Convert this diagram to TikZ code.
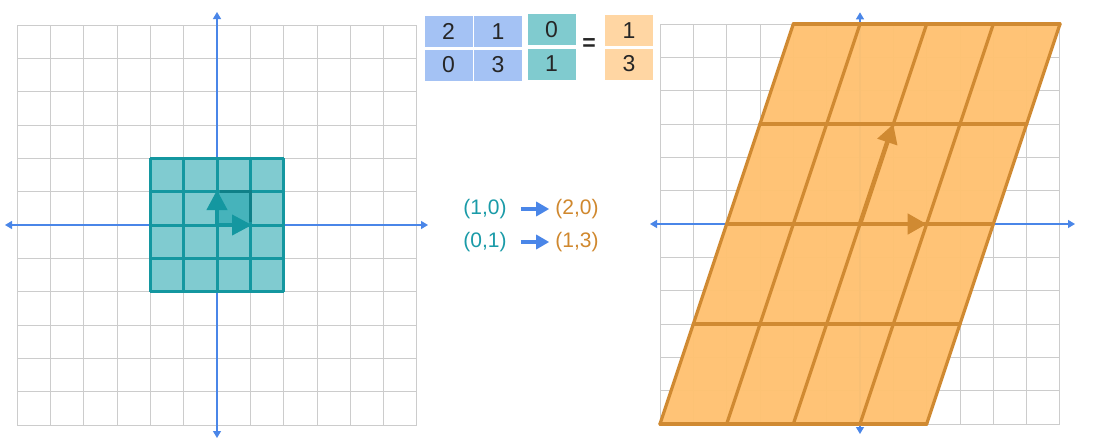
\documentclass[tikz,border=0pt]{standalone}
\usepackage{fontspec}
\setmainfont{Liberation Sans}
\usetikzlibrary{arrows.meta}
\definecolor{gridgray}{HTML}{CCCCCC}
\definecolor{axisblue}{HTML}{4A86E8}
\definecolor{tealfill}{HTML}{80CBD0}
\definecolor{tealdark}{HTML}{46B3BB}
\definecolor{tealedge}{HTML}{0F8088}
\definecolor{tealline}{HTML}{1497A0}
\definecolor{tealtext}{HTML}{1A9BA8}
\definecolor{orfill}{HTML}{FFC272}
\definecolor{orline}{HTML}{D08A32}
\definecolor{ortext}{HTML}{D0882E}
\definecolor{mblue}{HTML}{A4C2F4}
\definecolor{mteal}{HTML}{80CBCF}
\definecolor{morange}{HTML}{FFD6A3}
\tikzset{
  gridline/.style={draw=gridgray, line width=1pt},
  axisline/.style={draw=axisblue, line width=1.3pt,
    {Triangle[length=7pt,width=8pt]}-{Triangle[length=7pt,width=8pt]}},
  tealarrow/.style={draw=tealline, line width=4pt, -{Triangle[length=20pt,width=20pt]}},
  orarrow/.style={draw=orline, line width=4.5pt, -{Triangle[length=19pt,width=20pt]}},
  cell/.style={minimum width=48pt, minimum height=31pt, inner sep=0pt,
    font=\fontsize{23}{23}\selectfont, text=black!85},
  vectxt/.style={font=\fontsize{21}{21}\selectfont, inner sep=1pt},
  maparrow/.style={draw=axisblue, line width=3.2pt, -{Triangle[length=13pt,width=14pt]}}
}
\begin{document}
\begin{tikzpicture}[x=1pt,y=-1pt]
\path[use as bounding box, fill=white] (0,0) rectangle (1104,445);

% ---------- left plane ----------
\begin{scope}[shift={(217pt,-225pt)},x=33.333pt,y=33.333pt]
  \draw[gridline, step={(1,1)}] (-6,-6) grid (6,6);
  \draw[axisline] (-6.36,0) -- (6.33,0);
  \draw[axisline] (0,-6.39) -- (0,6.39);
  \fill[tealfill] (-2,-2) rectangle (2,2);
  \fill[tealdark] (0,0) rectangle (1,1);
  \draw[tealline, line width=3pt, step={(1,1)}] (-2,-2) grid (2,2);
  \draw[tealedge, line width=3pt] (0.1,1) -- (1,1) -- (1,0.1);
  \draw[tealarrow] (0,0) -- (1.05,0);
  \draw[tealarrow] (0,0) -- (0,1.05);
\end{scope}

% ---------- right plane ----------
\begin{scope}[shift={(860pt,-224pt)},x=33.333pt,y=33.333pt]
  \draw[gridline, step={(1,1)}] (-6,-6) grid (6,6);
  \draw[axisline] (-6.3,0) -- (6.45,0);
  \draw[axisline] (0,-6.3) -- (0,6.35);
  \fill[orfill, fill opacity=0.97] (-6,-6) -- (2,-6) -- (6,6) -- (-2,6) -- cycle;
  \foreach \t in {-2,...,2} {
    \draw[orline, line width=3.2pt, line cap=round] (\t-4,3*\t) -- (\t+4,3*\t);
    \draw[orline, line width=3.2pt, line cap=round] (2*\t-2,-6) -- (2*\t+2,6);
  }
  \draw[orarrow] (0,0) -- (2,0);
  \draw[orarrow] (0,0) -- (1,3);
\end{scope}

% ---------- matrix equation ----------
\node[cell, fill=mblue] (m11) at (448.5,31.5) {2};
\node[cell, fill=mblue] (m12) at (498,31.5) {1};
\node[cell, fill=mblue] (m21) at (448.5,65) {0};
\node[cell, fill=mblue] (m22) at (498,65) {3};
\node[cell, fill=mteal] (v1) at (551.5,29.5) {0};
\node[cell, fill=mteal] (v2) at (551.5,64) {1};
\node[font=\fontsize{23}{23}\selectfont\bfseries, text=black!85] (eq) at (589,45) {=};
\node[cell, fill=morange] (r1) at (629,30.5) {1};
\node[cell, fill=morange] (r2) at (629,64) {3};

% ---------- mapping text ----------
\node[vectxt, text=tealtext] (a1) at (485,209) {(1,0)};
\node[vectxt, text=ortext] (b1) at (577,209) {(2,0)};
\node[vectxt, text=tealtext] (a2) at (485,242) {(0,1)};
\node[vectxt, text=ortext] (b2) at (577,242) {(1,3)};
\path (a1.east) ++(13,0) coordinate (s1);
\path (b1.west) ++(-5,0) coordinate (e1);
\draw[maparrow] (s1) -- (e1);
\path (a2.east) ++(13,0) coordinate (s2);
\path (b2.west) ++(-5,0) coordinate (e2);
\draw[maparrow] (s2) -- (e2);
\end{tikzpicture}
\end{document}
